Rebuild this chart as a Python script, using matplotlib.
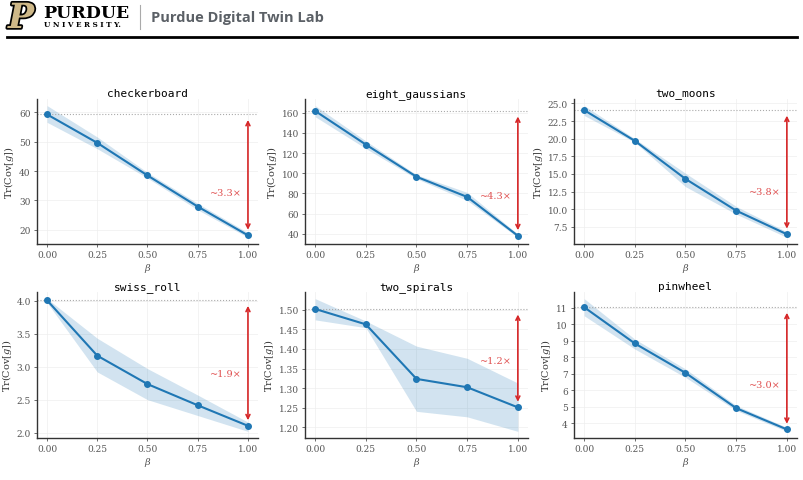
import numpy as np
import matplotlib
matplotlib.use("Agg")
import matplotlib.pyplot as plt
import matplotlib.patheffects as pe
from matplotlib.lines import Line2D
from matplotlib.ticker import MultipleLocator

# data
betas = [0.0, 0.25, 0.5, 0.75, 1.0]
names = ["checkerboard", "eight_gaussians", "two_moons",
         "swiss_roll", "two_spirals", "pinwheel"]

checkerboard_mean = [59.3, 49.6, 38.5, 27.9, 18.1]
checkerboard_lo = [56.6, 47.6, 37.6, 26.8, 17.4]
checkerboard_hi = [62.3, 51.6, 39.5, 29.0, 19.0]

eight_gaussians_mean = [161.7, 128.4, 96.5, 76.5, 38.0]
eight_gaussians_lo = [156.0, 124.5, 94.6, 73.0, 36.4]
eight_gaussians_hi = [167.0, 132.0, 98.5, 81.0, 39.7]

two_moons_mean = [24.06, 19.7, 14.3, 9.8, 6.45]
two_moons_lo = [23.3, 19.5, 13.2, 9.3, 6.0]
two_moons_hi = [24.7, 20.0, 15.1, 10.4, 6.8]

swiss_roll_mean = [4.005, 3.166, 2.736, 2.415, 2.104]
swiss_roll_lo = [3.97, 2.92, 2.50, 2.26, 2.02]
swiss_roll_hi = [4.03, 3.43, 2.97, 2.57, 2.16]

two_spirals_mean = [1.5017, 1.4625, 1.3236, 1.3023, 1.2511]
two_spirals_lo = [1.474, 1.454, 1.241, 1.227, 1.190]
two_spirals_hi = [1.528, 1.471, 1.407, 1.376, 1.313]

pinwheel_mean = [11.04, 8.84, 7.05, 4.91, 3.62]
pinwheel_lo = [10.52, 8.5, 6.78, 4.77, 3.5]
pinwheel_hi = [11.56, 9.1, 7.29, 5.07, 3.74]

means = [checkerboard_mean, eight_gaussians_mean, two_moons_mean,
         swiss_roll_mean, two_spirals_mean, pinwheel_mean]
los = [checkerboard_lo, eight_gaussians_lo, two_moons_lo,
       swiss_roll_lo, two_spirals_lo, pinwheel_lo]
his = [checkerboard_hi, eight_gaussians_hi, two_moons_hi,
       swiss_roll_hi, two_spirals_hi, pinwheel_hi]
ratio_labels = ["~3.3×", "~4.3×", "~3.8×", "~1.9×", "~1.2×", "~3.0×"]
ytick_steps = [10, 20, 2.5, 0.5, 0.05, 1]
ytick_fmts = ["{:.0f}", "{:.0f}", "{:.1f}", "{:.1f}", "{:.2f}", "{:.0f}"]

plt.rcParams["mathtext.fontset"] = "dejavuserif"

W, H = 804, 481
fig = plt.figure(figsize=(W / 100, H / 100), dpi=100)

# ---- header ----
fig.text(8 / W, 1 - 19 / H, "P", fontsize=25, fontweight="bold", style="italic",
         family="DejaVu Serif", color="#CEB888", va="center", ha="left",
         path_effects=[pe.withStroke(linewidth=2.5, foreground="black")])
fig.text(43 / W, 1 - 14 / H, "PURDUE", fontsize=12.5, fontweight="bold",
         family="DejaVu Serif", color="black", va="center", ha="left")
fig.text(44 / W, 1 - 25 / H, "U N I V E R S I T Y.", fontsize=5.2, fontweight="bold",
         family="DejaVu Serif", color="black", va="center", ha="left")
fig.add_artist(Line2D([140 / W, 140 / W], [1 - 6 / H, 1 - 30 / H],
                      color="#aaaaaa", lw=0.8))
fig.text(151 / W, 1 - 18 / H, "Purdue Digital Twin Lab", fontsize=10.5,
         fontweight="bold", family="Open Sans", color="#5b6066",
         va="center", ha="left")
fig.add_artist(Line2D([7 / W, 797 / W], [1 - 38 / H, 1 - 38 / H],
                      color="black", lw=2))

# ---- subplots ----
lefts = [37, 305, 574]
widths = [221, 223, 223]
rows = [(100, 245), (293, 439)]
blue = "#1f77b4"
red = "#d62728"

for i, name in enumerate(names):
    r, c = divmod(i, 3)
    top, bot = rows[r]
    ax = fig.add_axes([lefts[c] / W, 1 - bot / H, widths[c] / W, (bot - top) / H])
    m = np.array(means[i])
    ax.fill_between(betas, los[i], his[i], color=blue, alpha=0.2, lw=0)
    ax.plot(betas, m, color=blue, lw=1.5, marker="o", ms=4, zorder=3)
    ax.axhline(m[0], color="#aaaaaa", ls=":", lw=0.8, zorder=1)
    ax.annotate("", xy=(1.0, m[-1]), xytext=(1.0, m[0]),
                arrowprops=dict(arrowstyle="<->", color=red, lw=1.2,
                                shrinkA=4, shrinkB=4, mutation_scale=7))
    ax.text(0.97, np.sqrt(m[0] * m[-1]), ratio_labels[i], color="#e05050",
            fontsize=7, family="DejaVu Serif", ha="right", va="center")
    ax.set_title(name, family="DejaVu Sans Mono", fontsize=8, pad=2)
    ax.set_xlabel(r"$\beta$", fontsize=7, color="#555555", labelpad=1)
    ax.set_ylabel(r"$\mathrm{Tr}(\mathrm{Cov}[g])$", fontsize=7, color="#333333",
                  labelpad=2)
    ax.set_xticks(betas)
    ax.set_xticklabels(["0.00", "0.25", "0.50", "0.75", "1.00"])
    ax.yaxis.set_major_locator(MultipleLocator(ytick_steps[i]))
    fmt = ytick_fmts[i]
    ax.yaxis.set_major_formatter(plt.FuncFormatter(lambda v, p, f=fmt: f.format(v)))
    ax.tick_params(labelsize=6.5, colors="#555555", length=2.5, width=0.6,
                   pad=2)
    for lab in ax.get_xticklabels() + ax.get_yticklabels():
        lab.set_family("DejaVu Serif")
    ax.grid(True, color="#eeeeee", lw=0.5)
    ax.set_axisbelow(True)
    for s in ["top", "right"]:
        ax.spines[s].set_visible(False)
    for s in ["left", "bottom"]:
        ax.spines[s].set_color("#333333")
        ax.spines[s].set_linewidth(1.0)
    ax.set_xlim(-0.05, 1.05)

fig.savefig("out.png", dpi=100)
